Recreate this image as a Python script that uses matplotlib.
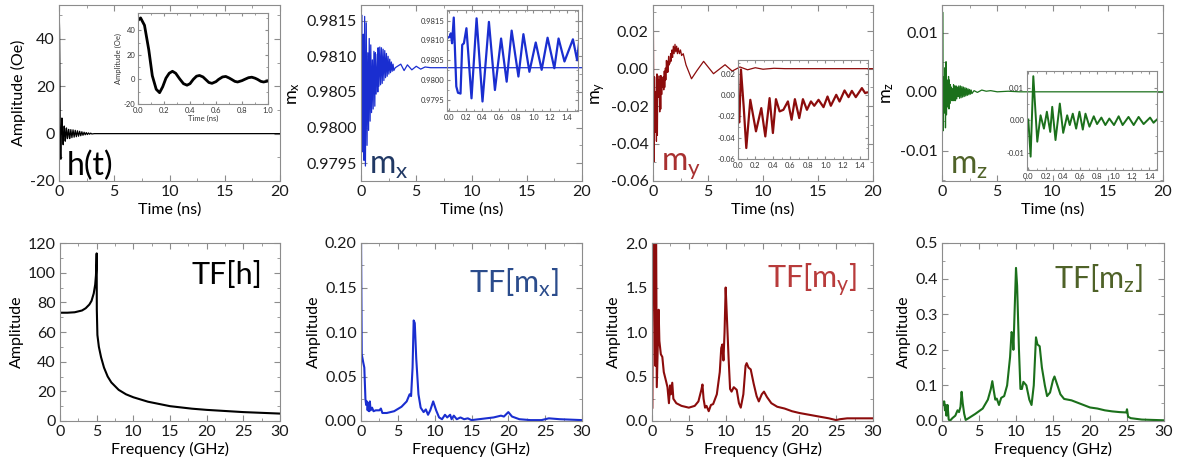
import numpy as np
import matplotlib
matplotlib.use('Agg')
import matplotlib.pyplot as plt
from matplotlib.ticker import MultipleLocator, AutoMinorLocator, FormatStrFormatter

plt.rcParams['font.family'] = ['Lato', 'DejaVu Sans']
plt.rcParams['axes.unicode_minus'] = False

# ---- time signals (ns) : values ----
h_t = [0.0, 0.02, 0.05, 0.083, 0.11, 0.14, 0.166, 0.19, 0.215, 0.24, 0.265, 0.29, 0.32, 0.35,
       0.377, 0.40, 0.425, 0.45, 0.473, 0.50, 0.52, 0.545, 0.569, 0.60, 0.62, 0.65, 0.675, 0.70,
       0.72, 0.745, 0.766, 0.80, 0.82, 0.85, 0.875, 0.90, 0.92, 0.945, 0.966, 1.0,
       1.07, 1.17, 1.27, 1.37, 1.47, 1.57, 1.67, 1.77, 1.87, 1.97, 2.07, 2.17, 2.27, 2.37,
       2.47, 2.57, 2.67, 2.77, 2.87, 2.97, 3.2, 20.0]
h_v = [48, 50, 44, 24, 3, -8, -10.8, -6, 1, 5, 6.6, 5, 0.5, -3.5,
       -4.7, -3.5, 0, 2.6, 3.2, 2, 0, -2.5, -3.2, -1.8, 0, 2, 2.4, 1.2,
       0, -1.6, -2.1, -1, 0, 1.4, 1.8, 1, 0, -1.6, -2.1, -1.3,
       1.7, -1.7, 1.6, -1.5, 1.4, -1.3, 1.2, -1.1, 1.0, -0.9, 0.8, -0.7, 0.6, -0.5,
       0.45, -0.4, 0.3, -0.25, 0.2, -0.15, 0, 0]

mx_t = [0.0, 0.012, 0.025, 0.04, 0.06, 0.09, 0.11, 0.14, 0.16, 0.18, 0.21, 0.27, 0.33, 0.40,
        0.476, 0.547, 0.62, 0.686, 0.745, 0.825, 0.884, 0.955, 1.03, 1.10, 1.17, 1.25, 1.30,
        1.37, 1.47, 1.52, 1.55, 1.62, 1.70, 1.77, 1.85, 1.92, 2.0, 2.07, 2.15, 2.22, 2.3, 2.37,
        2.45, 2.52, 2.6, 2.67, 2.75, 2.82, 2.9, 2.97, 3.1, 3.6, 3.9, 4.2, 4.6, 5.0, 5.4, 5.8,
        6.3, 20.0]
mx_v = [0.98108, 0.98110, 0.98118, 0.98093, 0.98158, 0.97984, 0.97968, 0.97966, 0.98089,
        0.98093, 0.98131, 0.97954, 0.98156, 0.97946, 0.98147, 0.97975, 0.98105, 0.97996,
        0.98125, 0.98009, 0.98116, 0.98021, 0.98095, 0.98026, 0.98107, 0.98030, 0.98105,
        0.98047, 0.98103, 0.98050, 0.98112, 0.98058, 0.98113, 0.98060, 0.98112, 0.98062,
        0.98110, 0.98066, 0.98108, 0.98070, 0.98104, 0.98072, 0.98100, 0.98075, 0.98096,
        0.98077, 0.98092, 0.98079, 0.98089, 0.98080, 0.98084, 0.98089, 0.98080, 0.98088,
        0.98081, 0.98086, 0.98082, 0.98085, 0.98084, 0.98084]

my_t = [0.0, 0.015, 0.034, 0.065, 0.095, 0.141, 0.206, 0.267, 0.313, 0.362, 0.40, 0.435, 0.477,
        0.52, 0.572, 0.614, 0.652, 0.702, 0.744, 0.79, 0.836, 0.874, 0.923, 0.98, 1.026, 1.064,
        1.126, 1.164, 1.221, 1.267, 1.305, 1.35, 1.42, 1.457, 1.476,
        1.55, 1.6, 1.65, 1.72, 1.78, 1.85, 1.92, 2.0, 2.07, 2.15, 2.22, 2.3, 2.4, 2.5, 2.6, 2.75,
        3.0, 3.5, 4.0, 4.6, 5.5, 6.55, 7.2, 7.9, 8.6, 9.3, 10.0, 11.0, 12.0, 20.0]
my_v = [-0.022, -0.0256, 0.024, -0.0106, -0.0497, -0.0044, -0.034, -0.0122, -0.0388, -0.0028,
        -0.0356, -0.0038, -0.0153, -0.0138, -0.0059, -0.0231, -0.0038, -0.0216, -0.0038,
        -0.0138, -0.0059, -0.010, -0.0044, -0.0113, -0.0013, -0.010, 0.0003, -0.006, 0.0044,
        -0.0019, 0.004, -0.0019, 0.0066, 0.0019, 0.0025,
        0.003, 0.008, 0.004, 0.010, 0.006, 0.012, 0.008, 0.013, 0.009, 0.012, 0.008, 0.011,
        0.008, 0.010, 0.007, 0.008,
        0.002, -0.0054, -0.001, 0.0039, -0.0027, 0.0021, -0.0013, 0.0009, -0.0006, 0.0005,
        -0.0003, 0.0002, 0.0, 0.0]

mz_t = [0.0, 0.027, 0.058, 0.104, 0.142, 0.181, 0.215, 0.254, 0.277, 0.315, 0.365, 0.404,
        0.45, 0.48, 0.515, 0.554, 0.592, 0.631, 0.662, 0.708, 0.758, 0.796, 0.846, 0.892,
        0.938, 0.992, 1.046, 1.092, 1.16, 1.22, 1.277, 1.335, 1.41, 1.45,
        1.52, 1.59, 1.66, 1.73, 1.8, 1.87, 1.94, 2.01, 2.08, 2.15, 2.22, 2.29, 2.36, 2.43,
        2.5, 2.57, 2.64, 2.71, 2.9, 3.2, 3.6, 4.0, 4.4, 5.0, 6.0, 7.0, 20.0]
mz_v = [0.0002, -0.0112, 0.0135, -0.0066, 0.0015, -0.0026, 0.0026, -0.0036, 0.0041, -0.0061,
        0.0051, -0.0039, 0.0015, -0.0015, 0.002, -0.0026, 0.0026, -0.0029, 0.002, -0.002,
        0.0012, -0.0012, 0.0008, -0.0015, 0.0005, -0.0015, 0.0012, -0.0015, 0.001, -0.0015,
        0.001, -0.0012, 0.0008, -0.0008,
        0.0010, -0.0011, 0.0010, -0.0010, 0.0009, -0.0009, 0.0008, -0.0008, 0.0007, -0.0007,
        0.0006, -0.0006, 0.0005, -0.0005, 0.0004, -0.0004, 0.0003, -0.0003, 0.0002, -0.0001,
        0.0003, 0.0001, 0.0002, 0.0, 0.0001, 0.0, 0.0]

# ---- spectra (GHz) ----
fh_f = [0, 1, 2, 3, 3.5, 4, 4.3, 4.6, 4.8, 4.9, 4.97, 5.0, 5.02, 5.1, 5.3, 5.6, 6.0, 6.5, 7.0,
        8, 9, 10, 12, 15, 18, 20, 25, 30]
fh_a = [73, 73, 73.3, 74.5, 76, 78.5, 81, 86, 92, 98, 106, 113, 75, 58, 50, 43, 36, 30, 26,
        21, 18, 16, 13, 10, 8.3, 7.5, 6, 5]

fmx_f = [0.0, 0.1, 0.3, 0.45, 0.6, 0.7, 0.8, 0.9, 1.0, 1.1, 1.2, 1.3, 1.5, 1.7, 2.0, 2.5, 2.7,
         2.9, 3.5, 4.5, 5.5, 6.2, 6.6, 6.8, 7.0, 7.15, 7.3, 7.5, 7.8, 8.1, 8.5, 8.8, 9.1, 9.4,
         9.8, 10.2, 10.6, 11.0, 11.4, 11.7, 12.1, 12.3, 12.6, 13.0, 13.5, 14.0, 14.5, 15, 16,
         17, 18, 19, 19.4, 20, 20.5, 21.5, 23, 24.5, 25.5, 27, 30]
fmx_a = [0.21, 0.075, 0.066, 0.06, 0.025, 0.018, 0.022, 0.012, 0.02, 0.011, 0.022, 0.012,
         0.015, 0.011, 0.012, 0.012, 0.014, 0.009, 0.009, 0.011, 0.016, 0.022, 0.03, 0.028,
         0.06, 0.113, 0.11, 0.07, 0.03, 0.015, 0.01, 0.013, 0.007, 0.012, 0.022, 0.012, 0.004,
         0.002, 0.007, 0.004, 0.007, 0.002, 0.006, 0.002, 0.004, 0.002, 0.003, 0.001, 0.002,
         0.003, 0.004, 0.006, 0.005, 0.01, 0.005, 0.002, 0.001, 0.001, 0.003, 0.002, 0.001]

fmy_f = [0.05, 0.15, 0.3, 0.45, 0.55, 0.65, 0.9, 1.0, 1.2, 1.4, 1.6, 1.9, 2.1, 2.3, 2.45, 2.55,
         2.75, 2.9, 3.3, 4, 5, 5.8, 6.3, 6.7, 6.85, 7.0, 7.2, 7.4, 7.7, 8.0, 8.3, 8.8, 9.2, 9.4,
         9.55, 9.7, 9.85, 10.0, 10.15, 10.4, 10.6, 10.8, 11.1, 11.5, 11.8, 12.05, 12.4, 12.7,
         12.85, 13.1, 13.4, 13.8, 14.2, 14.5, 14.9, 15.2, 15.6, 16.2, 17, 18, 19, 20, 21, 22,
         23, 24, 25, 25.5, 26.5, 28, 30]
fmy_a = [0.15, 2.3, 2.3, 0.62, 2.3, 0.38, 1.25, 0.9, 0.75, 0.72, 0.55, 0.45, 0.38, 0.2, 0.4,
         0.3, 0.43, 0.25, 0.2, 0.17, 0.15, 0.17, 0.22, 0.35, 0.41, 0.25, 0.15, 0.17, 0.11, 0.18,
         0.19, 0.3, 0.55, 0.82, 0.86, 0.68, 1.0, 1.5, 1.2, 0.7, 0.36, 0.33, 0.38, 0.35, 0.2,
         0.15, 0.3, 0.62, 0.65, 0.6, 0.58, 0.42, 0.28, 0.22, 0.3, 0.33, 0.27, 0.2, 0.16, 0.14,
         0.11, 0.09, 0.075, 0.06, 0.045, 0.03, 0.01, 0.02, 0.03, 0.03, 0.03]

fmz_f = [0, 0.1, 0.2, 0.3, 0.4, 0.5, 0.6, 0.75, 0.9, 1.05, 1.4, 1.8, 2.1, 2.3, 2.5, 2.65, 2.8,
         3.0, 3.2, 3.6, 4.5, 5.5, 6.2, 6.6, 6.8, 7.0, 7.2, 7.4, 7.7, 8.0, 8.4, 8.8, 9.2, 9.4,
         9.55, 9.65, 9.8, 10.0, 10.15, 10.4, 10.6, 10.8, 11.0, 11.4, 11.8, 12.1, 12.4, 12.7,
         12.9, 13.2, 13.5, 13.9, 14.2, 14.6, 15.0, 15.2, 15.6, 16, 16.5, 17.5, 18.5, 20, 21,
         22, 23, 24, 24.9, 25.0, 25.15, 25.5, 27, 30]
fmz_a = [0.04, 0.055, 0.045, 0.055, 0.03, 0.045, 0.015, 0.045, 0.005, 0.0, 0.008, 0.015, 0.03,
         0.025, 0.04, 0.082, 0.05, 0.02, 0.003, 0.008, 0.02, 0.035, 0.06, 0.09, 0.112, 0.085,
         0.06, 0.063, 0.045, 0.065, 0.07, 0.1, 0.18, 0.25, 0.24, 0.2, 0.3, 0.43, 0.38, 0.2,
         0.09, 0.09, 0.11, 0.1, 0.06, 0.045, 0.1, 0.235, 0.215, 0.21, 0.15, 0.1, 0.07, 0.08,
         0.115, 0.125, 0.1, 0.075, 0.062, 0.058, 0.05, 0.038, 0.035, 0.03, 0.027, 0.025, 0.024,
         0.033, 0.012, 0.008, 0.004, 0.002]

W, H = 1186, 463
fig = plt.figure(figsize=(W / 100, H / 100), dpi=100)

FS = 11.5  # tick / axis label size


def axes_px(l, t, r, b):
    return fig.add_axes([l / W, 1 - b / H, (r - l) / W, (b - t) / H])


def style(ax, xstep, ystep, yfmt, xfmt='%d', small=False):
    for s in ax.spines.values():
        s.set_color('#8c8c8c')
        s.set_linewidth(0.8)
    fs = 5.5 if small else FS
    ax.tick_params(which='both', direction='in', top=True, right=True,
                   colors='#8c8c8c', labelcolor='#333333' if small else '#1a1a1a',
                   labelsize=fs, pad=2 if small else 3)
    ax.tick_params(which='major', length=2.5 if small else 4)
    ax.tick_params(which='minor', length=1.5 if small else 2.5)
    ax.xaxis.set_major_locator(MultipleLocator(xstep))
    ax.yaxis.set_major_locator(MultipleLocator(ystep))
    ax.xaxis.set_minor_locator(AutoMinorLocator(2))
    ax.yaxis.set_minor_locator(AutoMinorLocator(2))
    ax.xaxis.set_major_formatter(FormatStrFormatter(xfmt))
    ax.yaxis.set_major_formatter(FormatStrFormatter(yfmt))


c_h, c_x, c_y, c_z = 'black', '#1a2ed0', '#8c0c0c', '#1b701b'
lab_x, lab_y, lab_z = '#203864', '#a83030', '#4f6228'

# ---------------- top row ----------------
tops = [(59, 280), (361, 582), (653, 873), (942, 1163)]
series = [(h_t, h_v, c_h, 'Amplitude (Oe)', (-20, 54.3), 20, '%d'),
          (mx_t, mx_v, c_x, r'$\mathregular{m_x}$', (0.97925, 0.98172), 0.0005, '%.4f'),
          (my_t, my_v, c_y, r'$\mathregular{m_y}$', (-0.06, 0.034), 0.02, '%.2f'),
          (mz_t, mz_v, c_z, r'$\mathregular{m_z}$', (-0.0151, 0.0147), 0.01, '%.2f')]
big = [('h(t)', 'black'), (r'$\mathregular{m_x}$', lab_x),
       (r'$\mathregular{m_y}$', lab_y), (r'$\mathregular{m_z}$', lab_z)]
for i, ((l, r), (t, v, c, yl, ylim, ys, fmt), (bt, bc)) in enumerate(zip(tops, series, big)):
    ax = axes_px(l, 5, r, 181)
    ax.plot(t, v, color=c, lw=0.9)
    ax.set_xlim(0, 20)
    ax.set_ylim(*ylim)
    style(ax, 5, ys, fmt)
    ax.set_xlabel('Time (ns)', fontsize=FS, labelpad=2)
    ax.set_ylabel(yl, fontsize=FS if i == 0 else 13, labelpad=3)
    ax.text(0.035, 0.0, bt, transform=ax.transAxes, fontsize=23, color=bc,
            ha='left', va='bottom')

# insets
ins = axes_px(138, 13, 268, 104)
ins.set_facecolor('none')
ins.plot(h_t, h_v, color=c_h, lw=2.0)
ins.set_xlim(0, 1.0)
ins.set_ylim(-20, 54)
style(ins, 0.2, 20, '%d', '%.1f', small=True)
ins.set_xlabel('Time (ns)', fontsize=5.5, labelpad=1, color='#333333')
ins.set_ylabel('Amplitude (Oe)', fontsize=5.5, labelpad=1, color='#333333')

ins = axes_px(447, 10, 578, 111)
ins.set_facecolor('none')
ins.plot(mx_t, mx_v, color=c_x, lw=1.6, solid_joinstyle='round')
ins.set_xlim(-0.02, 1.53)
ins.set_ylim(0.97922, 0.98177)
style(ins, 0.2, 0.0005, '%.4f', '%.1f', small=True)

ins = axes_px(738, 60, 868, 159)
ins.set_facecolor('none')
ins.plot(my_t, my_v, color=c_y, lw=1.6, solid_joinstyle='round')
ins.set_xlim(0, 1.49)
ins.set_ylim(-0.06, 0.033)
style(ins, 0.2, 0.02, '%.2f', '%.1f', small=True)

ins = axes_px(1027, 71, 1157, 170)
ins.set_facecolor('none')
ins.plot(mz_t, mz_v, color=c_z, lw=1.4, solid_joinstyle='round')
ins.set_xlim(-0.015, 1.49)
ins.set_ylim(-0.0153, 0.0151)
style(ins, 0.2, 0.01, '%.2f', '%.1f', small=True)

# ---------------- bottom row ----------------
bots = [(60, 280), (361, 582), (652, 873), (942, 1164)]
spectra = [(fh_f, fh_a, c_h, 120, 20, '%d', 'TF[h]', 'black', (0.92, 0.82)),
           (fmx_f, fmx_a, c_x, 0.20, 0.05, '%.2f', r'TF[$\mathregular{m_x}$]', '#2b4c8c', (0.895, 0.78)),
           (fmy_f, fmy_a, c_y, 2.0, 0.5, '%.1f', r'TF[$\mathregular{m_y}$]', '#b83b3b', (0.93, 0.79)),
           (fmz_f, fmz_a, c_z, 0.5, 0.1, '%.1f', r'TF[$\mathregular{m_z}$]', lab_z, (0.905, 0.80))]
for (l, r), (f, a, c, ytop, ys, fmt, lab, lc, pos) in zip(bots, spectra):
    ax = axes_px(l, 243, r, 421)
    ax.plot(f, a, color=c, lw=1.5)
    ax.set_xlim(0, 30)
    ax.set_ylim(0, ytop)
    style(ax, 5, ys, fmt)
    ax.set_xlabel('Frequency (GHz)', fontsize=FS, labelpad=2)
    ax.set_ylabel('Amplitude', fontsize=FS, labelpad=3)
    ax.text(pos[0], pos[1], lab, transform=ax.transAxes, fontsize=22, color=lc,
            ha='right', va='center')

fig.savefig('out.png', dpi=100)
